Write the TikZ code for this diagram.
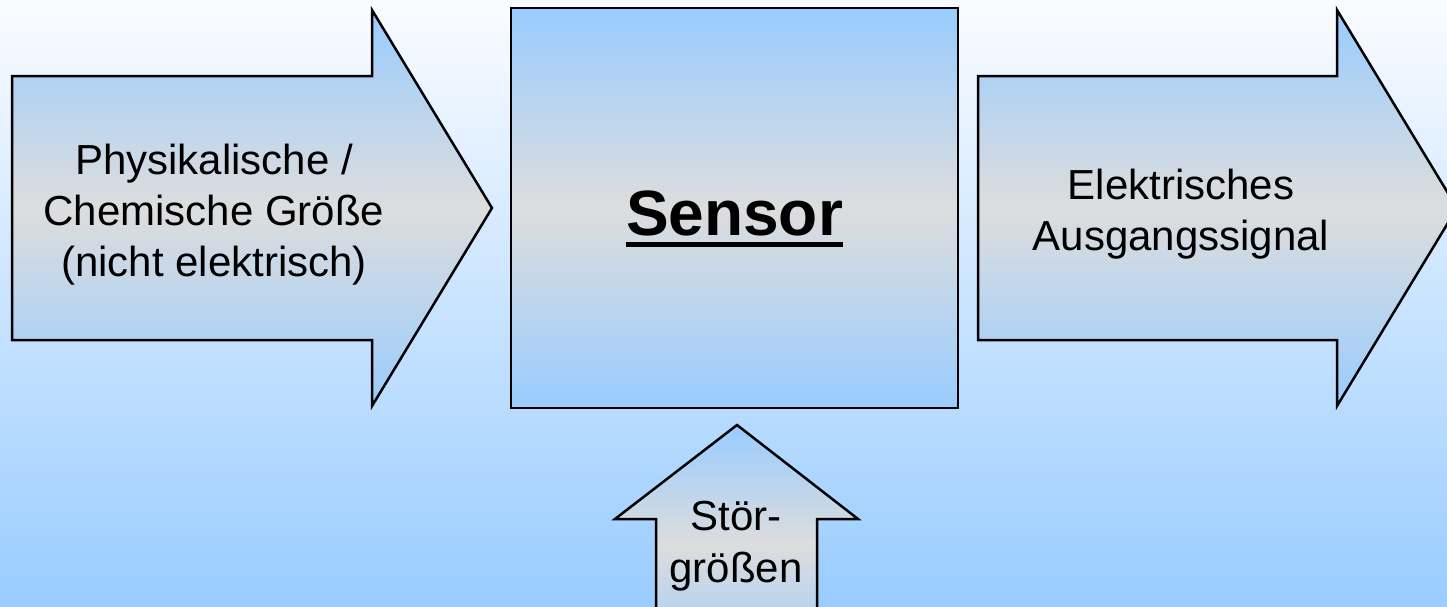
\documentclass[tikz,border=0pt]{standalone}
\usepackage{fontspec}
\setmainfont{Liberation Sans}
\definecolor{bgblue}{HTML}{99CCFF}
\definecolor{bgtop}{HTML}{FAFCFF}
\definecolor{shblue}{HTML}{99CCFF}
\definecolor{shgray}{HTML}{DDDDDD}
\begin{document}
\begin{tikzpicture}[x=1pt,y=-1pt,
  blockshape/.style={draw=black,line width=2.5pt,line join=miter,top color=shblue,bottom color=shblue,middle color=shgray},
  lbl/.style={font=\fontsize{42}{51}\selectfont,align=center,inner sep=0pt,text=black}]
\useasboundingbox (0,0) rectangle (1447,606);
\fill[top color=bgtop,bottom color=bgblue] (0,0) rectangle (1447,606);
\clip (0,0) rectangle (1447,606);
% left arrow
\path[blockshape] (12,76) -- (372,76) -- (372,10) -- (492,208) -- (372,406) -- (372,340) -- (12,340) -- cycle;
\node[lbl] (inlbl) at (214,215) {Physikalische /\\Chemische Größe\\(nicht elektrisch)};
% sensor box
\node[blockshape,rectangle,minimum width=447pt,minimum height=400pt,inner sep=0pt] (sensor) at (734.5,208) {};
\node[font=\fontsize{64}{70}\selectfont\bfseries,inner sep=0pt,anchor=base] (stxt) at (734.5,235) {Sensor};
\draw[line width=5pt] ([yshift=-9pt]stxt.base west) -- ([yshift=-9pt]stxt.base east);
% right arrow
\path[blockshape] (978,76) -- (1337,76) -- (1337,10) -- (1457,208) -- (1337,406) -- (1337,340) -- (978,340) -- cycle;
\node[lbl] (outlbl) at (1181,214) {Elektrisches\\Ausgangssignal};
% bottom arrow
\path[blockshape] (737,425) -- (858,519) -- (817,519) -- (817,665) -- (656,665) -- (656,519) -- (615,519) -- cycle;
\node[lbl,font=\fontsize{42}{52}\selectfont] (distlbl) at (736,546) {Stör-\\größen};
\end{tikzpicture}
\end{document}
